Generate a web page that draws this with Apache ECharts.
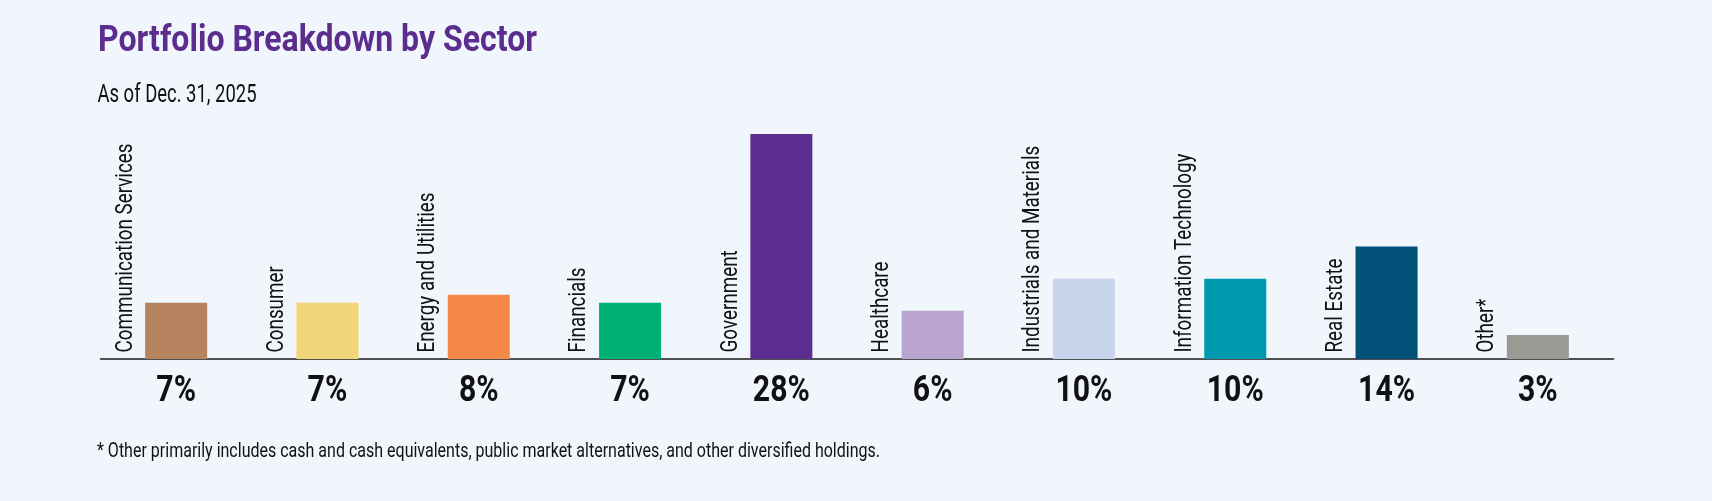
<!DOCTYPE html>
<html>
<head>
<meta charset="utf-8">
<script src="https://cdn.jsdelivr.net/npm/echarts@6/dist/echarts.min.js"></script>
<style>
  html, body { margin: 0; padding: 0; background: #F1F5FC; }
  #chart { width: 1712px; height: 501px; }
</style>
</head>
<body>
<div id="chart"></div>
<script>
const categories = ['Communication Services', 'Consumer', 'Energy and Utilities', 'Financials', 'Government', 'Healthcare', 'Industrials and Materials', 'Information Technology', 'Real Estate', 'Other*'];
const values = [7, 7, 8, 7, 28, 6, 10, 10, 14, 3];
const colors = ['#B5835E', '#F2D479', '#F58846', '#00B176', '#5B2D8E', '#B9A4CF', '#C9D5EC', '#009AAE', '#005077', '#989A93'];
const titleText = 'Portfolio Breakdown by Sector';
const subtitleText = 'As of Dec. 31, 2025';
const footnoteText = '* Other primarily includes cash and cash equivalents, public market alternatives, and other diversified holdings.';

// Fonts (condensed look obtained by horizontal scaling of Roboto)
const FAMILY = 'Roboto';
const titleFont = 'bold 37.5px ' + FAMILY;
const subFont = 'normal 26.3px ' + FAMILY;
const footFont = 'normal 20px ' + FAMILY;
const catFont = 'normal 23.5px ' + FAMILY;
const pctFont = 'bold 36.5px ' + FAMILY;

const mctx = document.createElement('canvas').getContext('2d');
function textW(text, font) { mctx.font = font; return mctx.measureText(text).width; }

const titleScale = 439 / textW(titleText, titleFont);
const subScale = 159 / textW(subtitleText, subFont);
const footScale = 783 / textW(footnoteText, footFont);
const catScale = 209 / textW('Communication Services', catFont);
const pctScale = 57 / textW('28%', pctFont);

const BAR_W = 62;

const chart = echarts.init(document.getElementById('chart'), null, { renderer: 'canvas' });
chart.setOption({
  backgroundColor: '#F1F5FC',
  animation: false,
  graphic: [
    { type: 'text', x: 98, y: 41.7, scaleX: titleScale, style: { text: titleText, font: titleFont, fill: '#5B2D8E', align: 'left', verticalAlign: 'middle' } },
    { type: 'text', x: 97.5, y: 95.3, scaleX: subScale, style: { text: subtitleText, font: subFont, fill: '#111', align: 'left', verticalAlign: 'middle' } },
    { type: 'text', x: 97, y: 452.2, scaleX: footScale, style: { text: footnoteText, font: footFont, fill: '#111', align: 'left', verticalAlign: 'middle' } }
  ],
  grid: { left: 100.5, width: 1513, top: 134, height: 225, containLabel: false },
  xAxis: {
    type: 'category',
    data: categories,
    axisLine: { show: true, lineStyle: { color: '#1a1a1a', width: 1.6 } },
    axisTick: { show: false },
    axisLabel: { show: false }
  },
  yAxis: {
    type: 'value', min: 0, max: 28,
    show: false,
    splitLine: { show: false }
  },
  series: [{
    type: 'bar',
    barWidth: BAR_W,
    data: values.map(function (v, i) { return { value: v, itemStyle: { color: colors[i] } }; })
  }, {
    type: 'custom',
    silent: true,
    z: 5,
    data: values.map(function (v, i) { return [i, v]; }),
    encode: { x: 0, y: 1 },
    renderItem: function (params, api) {
      const i = api.value(0);
      const base = api.coord([i, 0]);
      return {
        type: 'group',
        children: [
          {
            type: 'text',
            x: base[0] - BAR_W / 2 - 19.5,
            y: base[1] - 6.5,
            rotation: Math.PI / 2,
            scaleX: catScale,
            style: { text: categories[i], font: catFont, fill: '#111', align: 'left', verticalAlign: 'middle' }
          },
          {
            type: 'text',
            x: base[0],
            y: base[1] + 32.5,
            scaleX: pctScale,
            style: { text: values[i] + '%', font: pctFont, fill: '#111', align: 'center', verticalAlign: 'middle' }
          }
        ]
      };
    }
  }]
});
</script>
</body>
</html>
